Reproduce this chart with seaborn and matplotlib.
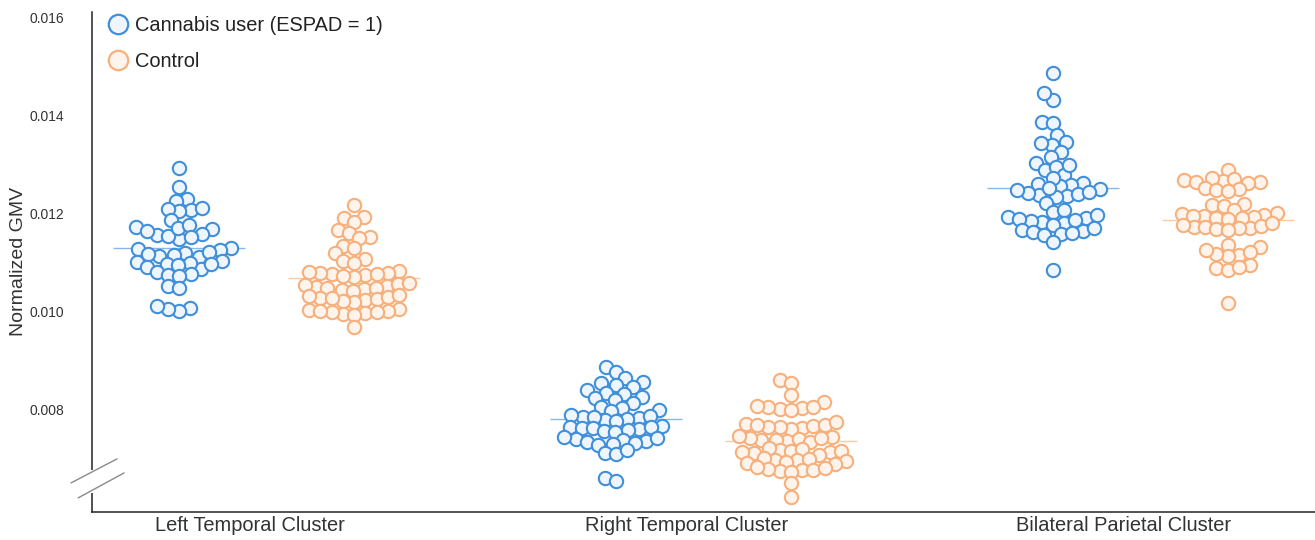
import numpy as np
import pandas as pd
import matplotlib
matplotlib.use("Agg")
import matplotlib.pyplot as plt
import matplotlib.transforms as mtransforms
from matplotlib.lines import Line2D
from matplotlib.collections import PathCollection
import seaborn as sns

# ---------------- data ----------------
clusters = ["Left Temporal Cluster", "Right Temporal Cluster", "Bilateral Parietal Cluster"]
groups = ["Cannabis user (ESPAD = 1)", "Control"]

left_cannabis = [
    0.01294, 0.01255, 0.01230, 0.01227, 0.01208, 0.01206, 0.01210, 0.01212,
    0.01188, 0.01149, 0.01157, 0.01155, 0.01171, 0.01174, 0.01169, 0.01178,
    0.01159, 0.01165, 0.01153, 0.01112, 0.01120, 0.01114, 0.01129, 0.01131,
    0.01127, 0.01122, 0.01118, 0.01116, 0.01088, 0.01098, 0.01104, 0.01102,
    0.01100, 0.01096, 0.01092, 0.01098, 0.01078, 0.01082, 0.01076, 0.01074,
    0.01053, 0.01049, 0.01008, 0.01002, 0.01006, 0.01012,
]
left_control = [
    0.01218, 0.01192, 0.01194, 0.01184, 0.01167, 0.01153, 0.01161, 0.01151,
    0.01135, 0.01131, 0.01120, 0.01108, 0.01104, 0.01100,
    0.01076, 0.01072, 0.01078, 0.01074, 0.01080, 0.01082, 0.01084, 0.01080, 0.01078,
    0.01051, 0.01047, 0.01053, 0.01049, 0.01057, 0.01055, 0.01059, 0.01045, 0.01049, 0.01043,
    0.01025, 0.01021, 0.01027, 0.01023, 0.01029, 0.01029, 0.01031, 0.01033, 0.01035,
    0.01004, 0.01006, 0.01002, 0.00998, 0.00996, 0.00994, 0.01000, 0.01001, 0.00999,
    0.00969,
]
right_cannabis = [
    0.00888, 0.00878, 0.00865, 0.00855, 0.00857, 0.00851, 0.00847, 0.00841,
    0.00835, 0.00833, 0.00827, 0.00825, 0.00820, 0.00814, 0.00806, 0.00804,
    0.00800, 0.00798, 0.00784, 0.00782, 0.00786, 0.00780, 0.00786, 0.00788,
    0.00790, 0.00778, 0.00765, 0.00767, 0.00763, 0.00761, 0.00765, 0.00763,
    0.00759, 0.00757, 0.00755, 0.00739, 0.00741, 0.00737, 0.00743, 0.00735,
    0.00733, 0.00729, 0.00731, 0.00745, 0.00712, 0.00710, 0.00718,
    0.00661, 0.00655,
]
right_control = [
    0.00861, 0.00855, 0.00831, 0.00816, 0.00804, 0.00802, 0.00806, 0.00800,
    0.00808, 0.00806, 0.00763, 0.00761, 0.00765, 0.00767, 0.00765, 0.00769,
    0.00771, 0.00769, 0.00776, 0.00739, 0.00737, 0.00741, 0.00735, 0.00739,
    0.00743, 0.00745, 0.00743, 0.00747, 0.00718, 0.00716, 0.00720, 0.00714,
    0.00712, 0.00714, 0.00716, 0.00722, 0.00708, 0.00698, 0.00696, 0.00700,
    0.00698, 0.00692, 0.00690, 0.00694, 0.00702, 0.00678, 0.00676, 0.00680,
    0.00678, 0.00674, 0.00682, 0.00684, 0.00651, 0.00622,
]
bilateral_cannabis = [
    0.01488, 0.01433, 0.01447, 0.01388, 0.01386, 0.01361, 0.01341, 0.01345,
    0.01347, 0.01327, 0.01316, 0.01304, 0.01290, 0.01296, 0.01280, 0.01300,
    0.01263, 0.01261, 0.01259, 0.01257, 0.01274, 0.01239, 0.01237, 0.01241,
    0.01235, 0.01243, 0.01249, 0.01253, 0.01251, 0.01245, 0.01222, 0.01204,
    0.01208, 0.01184, 0.01182, 0.01186, 0.01194, 0.01192, 0.01188, 0.01190,
    0.01178, 0.01198, 0.01167, 0.01165, 0.01163, 0.01157, 0.01159, 0.01161,
    0.01171, 0.01143, 0.01086,
]
bilateral_control = [
    0.01290, 0.01269, 0.01267, 0.01271, 0.01265, 0.01265, 0.01274, 0.01263,
    0.01253, 0.01251, 0.01249, 0.01247, 0.01218, 0.01216, 0.01220, 0.01208,
    0.01202, 0.01198, 0.01196, 0.01200, 0.01194, 0.01192, 0.01196, 0.01192,
    0.01190, 0.01174, 0.01172, 0.01176, 0.01174, 0.01171, 0.01169, 0.01178,
    0.01167, 0.01182, 0.01137, 0.01133, 0.01116, 0.01114, 0.01118, 0.01122,
    0.01127, 0.01096, 0.01090, 0.01086, 0.01092, 0.01018,
]

y_ticks = [0.008, 0.010, 0.012, 0.014, 0.016]
y_tick_labels = ["0.008", "0.010", "0.012", "0.014", "0.016"]

# ---------------- long table ----------------
series = {
    (clusters[0], groups[0]): left_cannabis,
    (clusters[0], groups[1]): left_control,
    (clusters[1], groups[0]): right_cannabis,
    (clusters[1], groups[1]): right_control,
    (clusters[2], groups[0]): bilateral_cannabis,
    (clusters[2], groups[1]): bilateral_control,
}
rows = []
for (c, g), vals in series.items():
    for v in vals:
        rows.append({"cluster": c, "group": g, "gmv": v})
df = pd.DataFrame(rows)

edge_cols = {groups[0]: "#3f8fdb", groups[1]: "#f7b07c"}
fill_cols = {groups[0]: "#eef5fc", groups[1]: "#fef4ec"}
mean_cols = {groups[0]: "#86b8e8", groups[1]: "#f9cba6"}

sns.set_theme(style="white")
plt.rcParams["font.family"] = ["Liberation Sans", "DejaVu Sans"]

fig = plt.figure(figsize=(13.15, 5.4), dpi=100)
ax = fig.add_axes([0.07, 0.052, 0.93, 0.926])

sns.swarmplot(data=df, x="cluster", y="gmv", hue="group", order=clusters,
              hue_order=groups, dodge=True, size=6.6, linewidth=1.2,
              palette=edge_cols, ax=ax, legend=False)

ax.set_xlim(-0.4, 2.4)
ax.set_ylim(0.00592, 0.01612)

# compute the swarm layout once, then freeze it and enlarge markers (overlap as in original)
fig.canvas.draw()
swarm_colls = [c for c in ax.collections if isinstance(c, PathCollection)]
for i, coll in enumerate(swarm_colls):
    if "draw" in coll.__dict__:
        del coll.draw
    g = groups[i % 2]
    coll.set_sizes([9.6 ** 2])
    coll.set_facecolor(fill_cols[g])
    coll.set_edgecolor(edge_cols[g])
    coll.set_linewidth(1.5)

# mean lines
sns.pointplot(data=df, x="cluster", y="gmv", hue="group", order=clusters,
              hue_order=groups, dodge=0.4, estimator="mean", errorbar=None,
              markers="_", markersize=95, markeredgewidth=1.0, linestyles="none",
              palette=mean_cols, ax=ax, legend=False)

ax.set_xlim(-0.4, 2.4)
ax.set_ylim(0.00592, 0.01612)
ax.set_yticks(y_ticks)
ax.set_yticklabels(y_tick_labels)
ax.tick_params(axis="both", length=0, colors="#333333")
ax.tick_params(axis="y", labelsize=10, pad=20)
ax.tick_params(axis="x", labelsize=14.4, pad=3)
shift = mtransforms.ScaledTranslation(-17 / 100, 0, fig.dpi_scale_trans)
for lab in ax.get_xticklabels():
    lab.set_transform(lab.get_transform() + shift)
ax.set_xlabel("")
ax.set_ylabel("Normalized GMV", fontsize=14, color="#333333")
ax.yaxis.set_label_coords(-0.053, 0.5)
for side in ["top", "right"]:
    ax.spines[side].set_visible(False)
for side in ["left", "bottom"]:
    ax.spines[side].set_color("#222222")
    ax.spines[side].set_linewidth(1.1)

# axis break marks on the y axis
trans = ax.transAxes
ax.plot([0, 0], [0.042, 0.080], transform=trans, color="white", lw=3,
        clip_on=False, zorder=5)
ax.plot([-0.0172, 0.0204], [0.058, 0.106], transform=trans,
        color="#8a8a8a", lw=1.0, clip_on=False, zorder=6)
ax.plot([-0.0114, 0.0262], [0.028, 0.078], transform=trans,
        color="#8a8a8a", lw=1.0, clip_on=False, zorder=6)

# legend
handles = [Line2D([0], [0], marker="o", linestyle="none", markersize=14,
                  markerfacecolor=fill_cols[g], markeredgecolor=edge_cols[g],
                  markeredgewidth=1.6) for g in groups]
leg = ax.legend(handles, groups, loc="upper left", bbox_to_anchor=(0.0, 1.02),
                frameon=False, fontsize=14.4, handletextpad=0.25,
                labelspacing=0.85, borderaxespad=0.3, handlelength=1.2)
for t in leg.get_texts():
    t.set_color("#222222")

fig.savefig("out.png", dpi=100)
